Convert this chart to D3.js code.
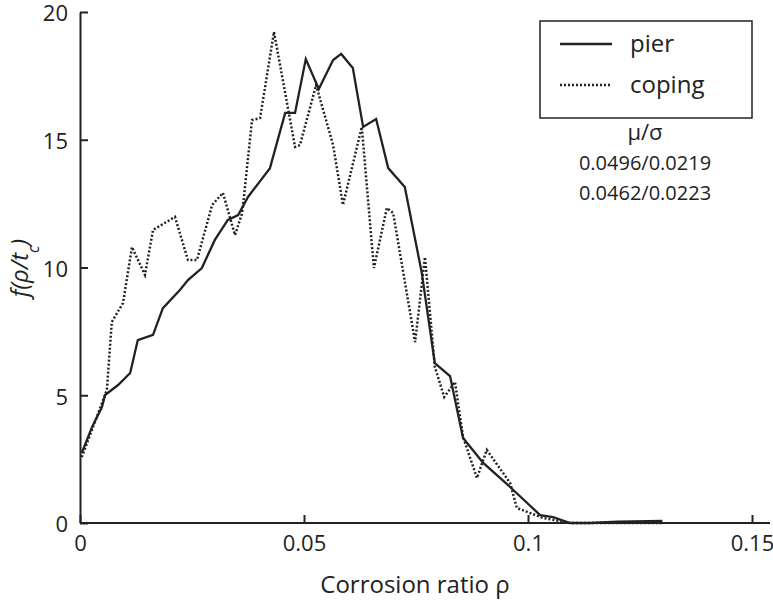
<!DOCTYPE html><html><head><meta charset="utf-8">
<script src="https://d3js.org/d3.v7.min.js"></script>
<style>body{margin:0;background:#fff}text{font-family:"Open Sans",sans-serif;fill:#222}</style></head><body>
<svg id="c" width="773" height="603"></svg>
<script>
const pierX=[.0004,.0027,.0049,.0056,.0085,.0112,.0129,.0163,.0185,.0223,.0241,.0272,.0301,.0330,.0353,.0375,.0424,.0458,.0480,.0504,.0533,.0565,.0583,.0609,.0632,.0661,.0688,.0725,.0763,.0792,.0826,.0855,.0900,.0960,.1027,.1056,.1094,.1138,.12,.13];
const pierY=[2.74,3.76,4.54,5.01,5.40,5.87,7.16,7.36,8.41,9.12,9.51,9.98,11.08,11.86,12.05,12.76,13.89,16.05,16.05,18.16,16.99,18.12,18.36,17.81,15.50,15.81,13.89,13.15,9.78,6.26,5.75,3.33,2.35,1.41,0.31,0.23,0,0,0.05,0.08];
const copX=[.0004,.0060,.0071,.0096,.0116,.0145,.0163,.0212,.0241,.0261,.0295,.0319,.0346,.0362,.0384,.0402,.0433,.0480,.0491,.0527,.0565,.0587,.0629,.0656,.0685,.0699,.0748,.0770,.0792,.0813,.0837,.0855,.0886,.0908,.0960,.0975,.1033,.1094,.13];
const copY=[2.58,5.21,7.87,8.61,10.80,9.71,11.47,11.98,10.29,10.29,12.45,12.92,11.27,12.13,15.77,15.85,19.22,14.72,14.79,17.14,14.79,12.45,15.50,9.98,12.33,12.13,7.08,10.41,6.11,4.93,5.52,3.37,1.76,2.86,1.57,0.59,0.20,0,0];
const xTicks=[0,0.05,0.1,0.15], xTickLabels=["0","0.05","0.1","0.15"];
const yTicks=[0,5,10,15,20];
const seriesNames=["pier","coping"];
const stats=["μ/σ","0.0496/0.0219","0.0462/0.0223"];

const svg=d3.select("#c");
const x=d3.scaleLinear().domain([0,0.15]).range([80,752]);
const y=d3.scaleLinear().domain([0,20]).range([523,12]);
const gx=svg.append("g").attr("transform","translate(0,523)").call(d3.axisBottom(x).tickValues(xTicks).tickFormat((d,i)=>xTickLabels[i]).tickSizeInner(-8).tickSizeOuter(0).tickPadding(12));
const gy=svg.append("g").attr("transform","translate(80,0)").call(d3.axisLeft(y).tickValues(yTicks).tickSizeInner(-8).tickSizeOuter(0).tickPadding(12));
[gx,gy].forEach(g=>{g.selectAll("text").style("font-size","22px").attr("fill","#222");g.selectAll("line,path").attr("stroke","#222").attr("stroke-width",2);});
gy.selectAll("text").attr("dy","0.4em");
gx.select(".domain").attr("d","M80,0H770");
const line=d3.line().x(d=>x(d[0])).y(d=>y(d[1]));
svg.append("path").datum(pierX.map((v,i)=>[v,pierY[i]])).attr("d",line).attr("fill","none").attr("stroke","#222").attr("stroke-width",2.3);
svg.append("path").datum(copX.map((v,i)=>[v,copY[i]])).attr("d",line).attr("fill","none").attr("stroke","#222").attr("stroke-width",2.5).attr("stroke-dasharray","2,2");
svg.append("rect").attr("x",540).attr("y",21).attr("width",212).attr("height",97).attr("fill","#fff").attr("stroke","#222").attr("stroke-width",1.5);
[0,1].forEach(i=>{
 const ly=44+i*41;
 svg.append("line").attr("x1",560).attr("x2",612).attr("y1",ly).attr("y2",ly).attr("stroke","#222").attr("stroke-width",2.3).attr("stroke-dasharray",i?"2,2":null);
 svg.append("text").attr("x",630).attr("y",ly+8).style("font-size","24px").text(seriesNames[i]);
});
stats.forEach((s,i)=>svg.append("text").attr("x",645).attr("y",140+i*30).attr("text-anchor","middle").style("font-size",i?"20px":"22px").text(s));
svg.append("text").attr("x",415).attr("y",593).attr("text-anchor","middle").style("font-size","24px").text("Corrosion ratio ρ");
const yl=svg.append("text").attr("transform","translate(28,268) rotate(-90)").attr("text-anchor","middle").style("font-size","24px").style("font-style","italic");
yl.append("tspan").text("f(ρ/t");yl.append("tspan").attr("baseline-shift","sub").style("font-size","16px").text("c");yl.append("tspan").text(")");
</script></body></html>
